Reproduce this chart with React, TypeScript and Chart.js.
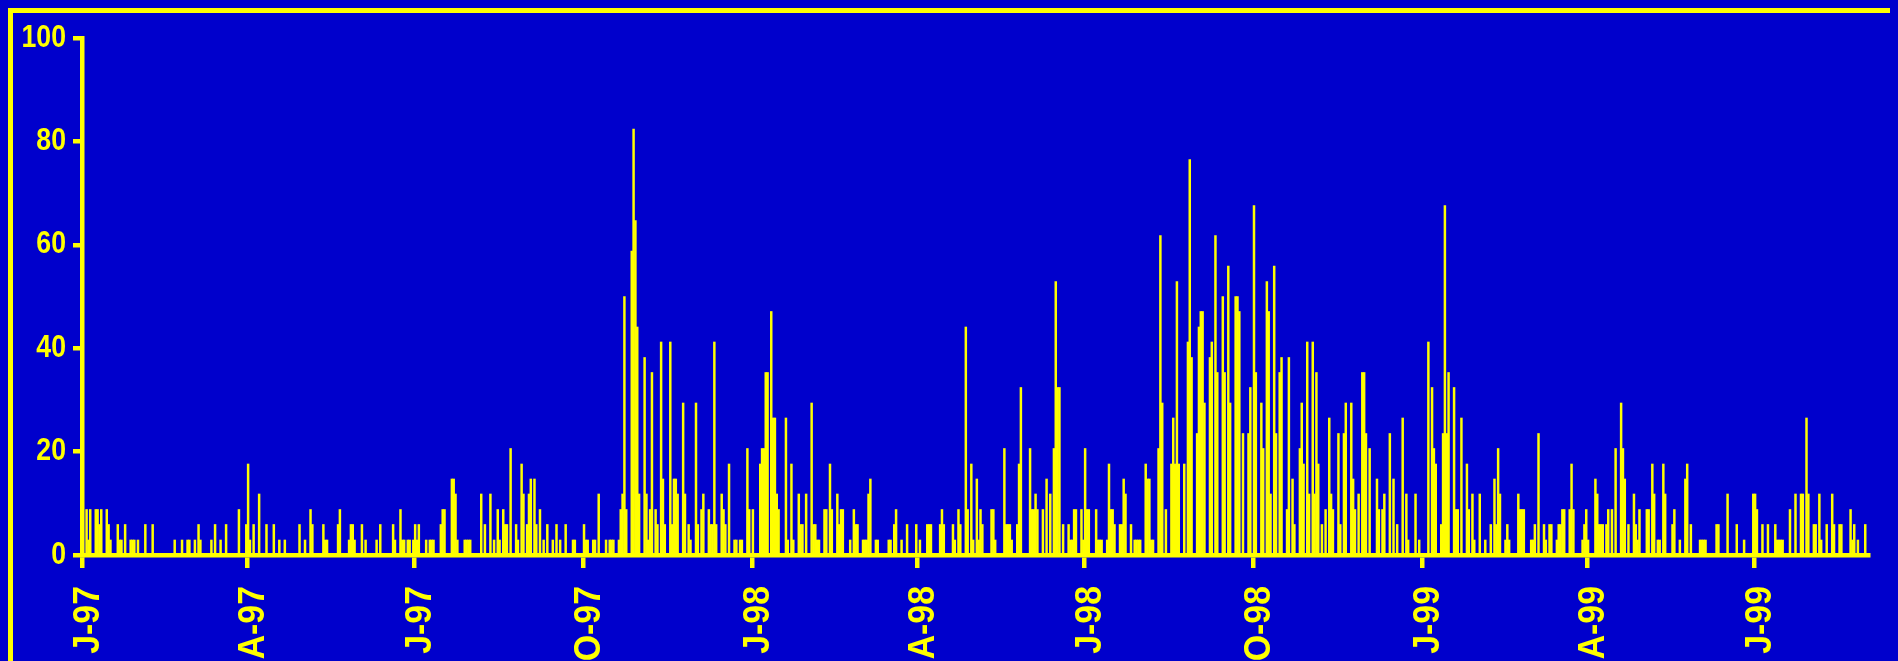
import { useEffect, useRef } from 'react';
import { Chart, registerables } from 'chart.js';

Chart.register(...registerables);

const BLUE = '#0000cc';
const YELLOW = '#ffff00';
const FONT = "'Liberation Sans', Arial, Helvetica, sans-serif";

// Daily series, 1 Jan 1997 .. 31 Aug 1999 (973 days). Days without an entry are 0.
const totalDays = 973;

// Quarter tick marks (days since 1 Jan 1997) and their labels
const tickDays = [0, 90, 181, 273, 365, 455, 546, 638, 730, 820, 911];
const tickLabels = ['J-97', 'A-97', 'J-97', 'O-97', 'J-98', 'A-98', 'J-98', 'O-98', 'J-99', 'A-99', 'J-99'];

const yTicks = [0, 20, 40, 60, 80, 100];

// [day since 1 Jan 1997, value %]
const values1997: [number, number][] = [
  [2, 8.8], [3, 2.9], [4, 8.8], [7, 8.8], [8, 8.8], [9, 5.9], [10, 8.8], [13, 8.8], [14, 5.9], [15, 2.9],
  [19, 5.9], [20, 2.9], [21, 2.9], [23, 5.9], [26, 2.9], [27, 2.9], [28, 2.9], [30, 2.9], [34, 5.9], [38, 5.9],
  [50, 2.9], [54, 2.9], [57, 2.9], [58, 2.9], [61, 2.9], [63, 5.9], [64, 2.9], [70, 2.9], [72, 5.9], [75, 2.9],
  [78, 5.9], [85, 8.8], [89, 5.9], [90, 17.6], [91, 2.9], [93, 5.9], [96, 11.8], [100, 5.9], [104, 5.9], [107, 2.9],
  [110, 2.9], [118, 5.9], [121, 2.9], [124, 8.8], [125, 5.9], [131, 5.9], [132, 2.9], [133, 2.9], [139, 5.9], [140, 8.8],
  [145, 2.9], [146, 5.9], [147, 5.9], [148, 2.9], [152, 5.9], [154, 2.9], [160, 2.9], [162, 5.9], [169, 5.9], [170, 2.9],
  [173, 8.8], [174, 2.9], [175, 2.9], [177, 2.9], [178, 2.9], [180, 2.9], [181, 5.9], [182, 2.9], [183, 5.9], [187, 2.9],
  [189, 2.9], [190, 2.9], [191, 2.9], [195, 5.9], [196, 8.8], [197, 8.8], [201, 14.7], [202, 14.7], [203, 11.8], [204, 2.9],
  [208, 2.9], [209, 2.9], [210, 2.9], [211, 2.9], [217, 11.8], [219, 5.9], [222, 11.8], [224, 2.9], [226, 8.8], [227, 2.9],
  [229, 8.8], [230, 5.9], [231, 5.9], [233, 20.6], [236, 5.9], [237, 2.9], [239, 17.6], [240, 11.8], [242, 5.9], [243, 11.8],
  [244, 14.7], [246, 14.7], [247, 5.9], [249, 8.8], [251, 2.9], [253, 5.9], [256, 2.9], [258, 5.9], [260, 2.9], [263, 5.9],
  [267, 2.9], [268, 2.9], [273, 5.9], [274, 2.9], [275, 2.9], [278, 2.9], [279, 2.9], [281, 11.8], [285, 2.9], [287, 2.9],
  [288, 2.9], [289, 2.9], [292, 2.9], [293, 8.8], [294, 11.8], [295, 50], [296, 8.8], [299, 58.8], [300, 82.4], [301, 64.7],
  [302, 44.1], [303, 11.8], [306, 38.2], [307, 11.8], [308, 2.9], [309, 8.8], [310, 35.3], [312, 8.8], [313, 5.9], [315, 41.2],
  [316, 14.7], [317, 5.9], [320, 41.2], [321, 5.9], [322, 14.7], [323, 14.7], [324, 11.8], [327, 29.4], [328, 11.8], [330, 5.9],
  [331, 2.9], [334, 29.4], [335, 5.9], [337, 8.8], [338, 11.8], [341, 8.8], [342, 5.9], [343, 5.9], [344, 41.2], [345, 5.9],
  [348, 11.8], [349, 8.8], [350, 5.9], [352, 17.6], [355, 2.9], [356, 2.9], [358, 2.9], [359, 2.9], [362, 20.6], [363, 8.8],
];

const values1998: [number, number][] = [
  [365, 8.8], [369, 17.6], [370, 20.6], [371, 20.6], [372, 35.3], [373, 35.3], [375, 47.1], [376, 26.5], [377, 26.5], [378, 11.8],
  [379, 8.8], [383, 26.5], [384, 2.9], [386, 17.6], [387, 2.9], [390, 11.8], [391, 5.9], [392, 5.9], [394, 11.8], [397, 29.4],
  [398, 5.9], [399, 5.9], [400, 2.9], [401, 2.9], [404, 8.8], [405, 8.8], [407, 17.6], [408, 8.8], [411, 11.8], [412, 5.9],
  [413, 8.8], [414, 8.8], [418, 2.9], [420, 8.8], [421, 5.9], [422, 5.9], [425, 2.9], [426, 2.9], [427, 2.9], [428, 11.8],
  [429, 14.7], [432, 2.9], [433, 2.9], [439, 2.9], [440, 2.9], [442, 5.9], [443, 8.8], [446, 2.9], [449, 5.9], [454, 5.9],
  [456, 2.9], [460, 5.9], [461, 5.9], [462, 5.9], [467, 5.9], [468, 8.8], [469, 5.9], [474, 5.9], [475, 2.9], [477, 8.8],
  [478, 5.9], [481, 44.1], [482, 8.8], [484, 17.6], [485, 2.9], [487, 14.7], [488, 2.9], [489, 8.8], [490, 5.9], [495, 8.8],
  [496, 8.8], [497, 2.9], [502, 20.6], [503, 5.9], [504, 5.9], [505, 5.9], [506, 2.9], [509, 5.9], [510, 17.6], [511, 32.4],
  [516, 20.6], [517, 8.8], [518, 8.8], [519, 11.8], [520, 8.8], [523, 8.8], [525, 14.7], [527, 11.8], [529, 20.6], [530, 52.9],
  [531, 32.4], [532, 32.4], [534, 5.9], [537, 5.9], [538, 2.9], [539, 2.9], [540, 8.8], [541, 8.8], [544, 8.8], [545, 2.9],
  [546, 20.6], [547, 8.8], [548, 8.8], [552, 8.8], [553, 2.9], [554, 2.9], [555, 2.9], [558, 2.9], [559, 17.6], [560, 8.8],
  [561, 8.8], [562, 5.9], [565, 5.9], [566, 5.9], [567, 14.7], [568, 11.8], [571, 5.9], [573, 2.9], [574, 2.9], [575, 2.9],
  [576, 2.9], [579, 17.6], [580, 14.7], [581, 14.7], [582, 2.9], [583, 2.9], [586, 20.6], [587, 61.8], [588, 29.4], [590, 8.8],
  [593, 17.6], [594, 26.5], [595, 17.6], [596, 52.9], [597, 17.6], [600, 17.6], [602, 41.2], [603, 76.5], [604, 38.2], [607, 23.5],
  [608, 44.1], [609, 47.1], [610, 47.1], [611, 29.4], [614, 38.2], [615, 41.2], [617, 61.8], [618, 35.3], [621, 50], [622, 35.3],
  [624, 55.9], [625, 29.4], [628, 50], [629, 50], [630, 47.1], [632, 23.5], [635, 23.5], [636, 32.4], [638, 67.6], [639, 35.3],
  [642, 29.4], [643, 20.6], [645, 52.9], [646, 47.1], [647, 11.8], [649, 55.9], [650, 23.5], [652, 35.3], [653, 38.2], [656, 8.8],
  [657, 38.2], [659, 14.7], [660, 5.9], [663, 20.6], [664, 29.4], [665, 17.6], [667, 41.2], [668, 11.8], [670, 41.2], [671, 11.8],
  [672, 35.3], [673, 17.6], [675, 5.9], [677, 8.8], [679, 26.5], [680, 11.8], [681, 8.8], [684, 23.5], [685, 5.9], [687, 23.5],
  [688, 29.4], [691, 29.4], [692, 14.7], [693, 8.8], [695, 11.8], [697, 35.3], [698, 35.3], [699, 23.5], [701, 20.6], [705, 14.7],
  [706, 8.8], [708, 8.8], [709, 11.8], [712, 23.5], [714, 14.7], [716, 5.9], [719, 26.5], [721, 11.8], [722, 2.9], [726, 11.8],
  [728, 2.9],
];

const values1999: [number, number][] = [
  [733, 41.2], [735, 32.4], [736, 20.6], [737, 17.6], [740, 5.9], [741, 23.5], [742, 67.6], [743, 23.5], [744, 35.3], [747, 32.4],
  [748, 8.8], [749, 8.8], [751, 26.5], [754, 17.6], [755, 8.8], [757, 11.8], [758, 2.9], [761, 11.8], [764, 2.9], [767, 5.9],
  [769, 14.7], [770, 5.9], [771, 20.6], [772, 11.8], [775, 2.9], [776, 5.9], [777, 2.9], [782, 11.8], [783, 8.8], [784, 8.8],
  [785, 8.8], [789, 2.9], [790, 2.9], [791, 5.9], [793, 23.5], [796, 5.9], [797, 2.9], [799, 5.9], [800, 5.9], [803, 2.9],
  [804, 5.9], [805, 5.9], [806, 8.8], [807, 8.8], [810, 8.8], [811, 17.6], [812, 8.8], [817, 2.9], [818, 5.9], [819, 8.8],
  [820, 2.9], [824, 14.7], [825, 11.8], [826, 5.9], [827, 5.9], [828, 5.9], [830, 5.9], [831, 8.8], [833, 8.8], [835, 20.6],
  [838, 29.4], [839, 20.6], [840, 14.7], [842, 5.9], [845, 11.8], [846, 5.9], [847, 2.9], [848, 8.8], [852, 8.8], [853, 8.8],
  [855, 17.6], [856, 11.8], [858, 2.9], [859, 2.9], [861, 17.6], [862, 11.8], [866, 5.9], [867, 8.8], [870, 2.9], [873, 14.7],
  [874, 17.6], [876, 5.9], [881, 2.9], [882, 2.9], [883, 2.9], [884, 2.9], [890, 5.9], [891, 5.9], [896, 11.8], [901, 5.9],
  [905, 2.9], [910, 11.8], [911, 11.8], [912, 8.8], [915, 5.9], [918, 5.9], [922, 5.9], [923, 2.9], [924, 2.9], [925, 2.9],
  [926, 2.9], [930, 8.8], [933, 11.8], [936, 11.8], [937, 11.8], [939, 26.5], [940, 11.8], [943, 5.9], [944, 5.9], [946, 11.8],
  [947, 2.9], [950, 5.9], [953, 11.8], [954, 5.9], [957, 5.9], [958, 5.9], [963, 8.8], [964, 2.9], [965, 5.9], [967, 2.9],
  [971, 5.9],
];

// Draws the (horizontally condensed) tick labels at the positions given by the chart's scales.
const condensedLabels = {
  id: 'condensedLabels',
  afterDraw(chart: any) {
    const ctx: CanvasRenderingContext2D = chart.ctx;
    const area = chart.chartArea;
    const xs = chart.scales.x;
    const ys = chart.scales.y;
    ctx.save();
    ctx.fillStyle = YELLOW;

    ctx.font = `bold 31px ${FONT}`;
    ctx.textAlign = 'right';
    ctx.textBaseline = 'middle';
    yTicks.forEach((v) => {
      ctx.save();
      ctx.translate(area.left - 16, ys.getPixelForValue(v));
      ctx.scale(0.86, 1);
      ctx.fillText(String(v), 0, 0);
      ctx.restore();
    });

    ctx.font = `bold 36px ${FONT}`;
    ctx.textAlign = 'right';
    ctx.textBaseline = 'alphabetic';
    tickDays.forEach((d, i) => {
      ctx.save();
      ctx.translate(xs.getPixelForValue(d) + 17, area.bottom + 31);
      ctx.rotate(-Math.PI / 2);
      ctx.scale(0.94, 1);
      ctx.fillText(tickLabels[i], 0, 0);
      ctx.restore();
    });
    ctx.restore();
  },
};

export default function App() {
  const ref = useRef<HTMLCanvasElement>(null);

  useEffect(() => {
    const daily: number[] = new Array(totalDays).fill(0);
    [values1997, values1998, values1999].forEach((list) =>
      list.forEach(([d, v]) => {
        daily[d] = v;
      })
    );
    const points = daily.map((v, i) => ({ x: i + 0.5, y: v }));

    const chart = new Chart(ref.current as HTMLCanvasElement, {
      type: 'bar',
      data: {
        datasets: [
          {
            data: points as any,
            backgroundColor: YELLOW,
            borderWidth: 0,
            barPercentage: 1,
            categoryPercentage: 1,
          },
        ],
      },
      options: {
        animation: false,
        responsive: false,
        events: [],
        layout: { padding: { left: 0, top: 25, right: 45, bottom: 0 } },
        plugins: { legend: { display: false }, tooltip: { enabled: false } },
        scales: {
          x: {
            type: 'linear',
            min: 0,
            max: totalDays,
            offset: false,
            afterBuildTicks: (scale: any) => {
              scale.ticks = tickDays.map((v) => ({ value: v }));
            },
            afterFit: (scale: any) => {
              scale.height = 118;
            },
            border: { display: true, color: YELLOW, width: 4.5 },
            grid: {
              offset: false,
              drawOnChartArea: false,
              drawTicks: true,
              tickLength: 13,
              color: YELLOW,
              lineWidth: 4.5,
            },
            ticks: { display: false, autoSkip: false },
          },
          y: {
            min: 0,
            max: 100,
            afterBuildTicks: (scale: any) => {
              scale.ticks = yTicks.map((v) => ({ value: v }));
            },
            afterFit: (scale: any) => {
              scale.width = 69;
            },
            border: { display: true, color: YELLOW, width: 4.5 },
            grid: {
              drawOnChartArea: false,
              drawTicks: true,
              tickLength: 9,
              color: YELLOW,
              lineWidth: 4.5,
            },
            ticks: { display: false },
          },
        },
      },
      plugins: [condensedLabels],
    });
    return () => chart.destroy();
  }, []);

  return (
    <>
      <style>{`html,body{overflow:hidden;background:${BLUE};}`}</style>
      <div
        style={{
          border: `5px solid ${YELLOW}`,
          width: 1900,
          height: 680,
          background: BLUE,
        }}
      >
        <canvas ref={ref} width={1900} height={660} style={{ display: 'block' }} />
      </div>
    </>
  );
}
